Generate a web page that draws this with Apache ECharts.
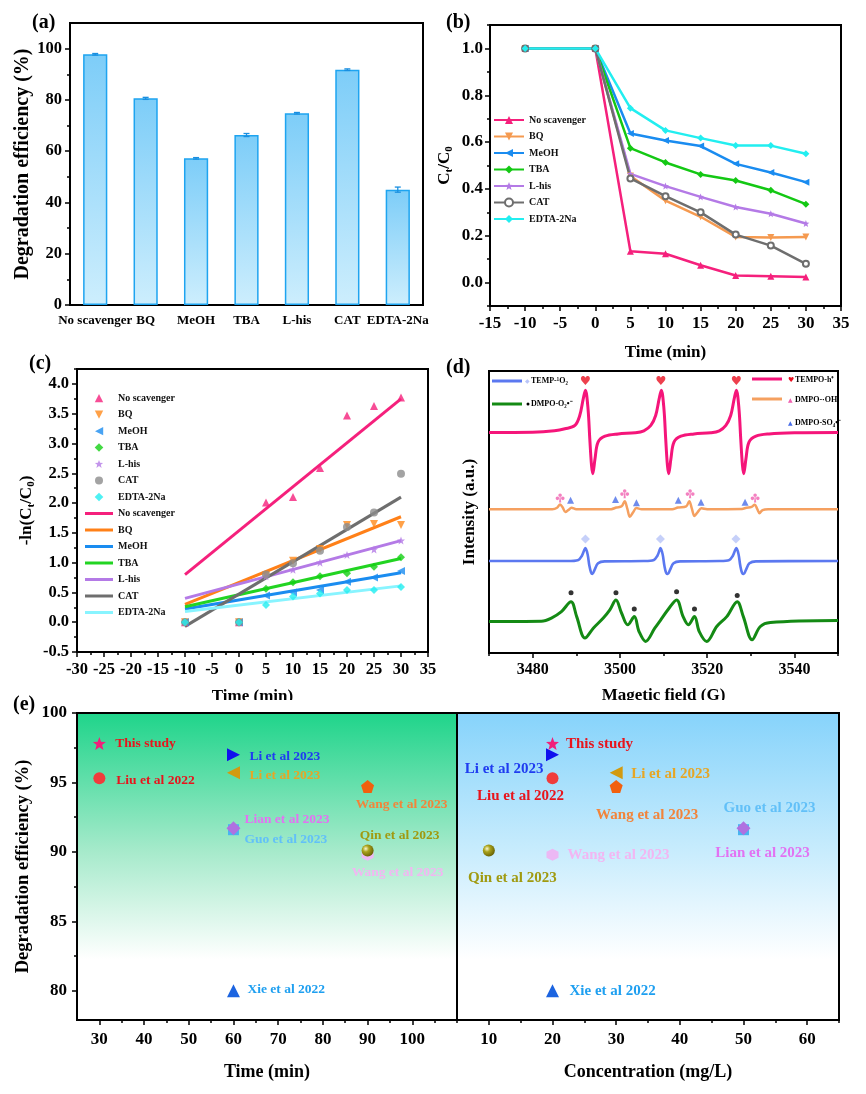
<!DOCTYPE html>
<html><head><meta charset="utf-8">
<script src="https://cdn.jsdelivr.net/npm/echarts@6/dist/echarts.min.js"></script>
<style>html,body{margin:0;padding:0;background:#fff}#c{width:866px;height:1094px}</style>
</head><body><div id="c"></div>
<script>
// ---------------- DATA ----------------
const scavengers = ['No scavenger', 'BQ', 'MeOH', 'TBA', 'L-his', 'CAT', 'EDTA-2Na'];
// (a) degradation efficiency (%)
const efficiency = [97.8, 80.6, 57.2, 66.3, 74.8, 91.8, 45.0];
const efficiencyErr = [0.3, 0.4, 0.3, 0.6, 0.3, 0.3, 1.0];
// (b) Ct/C0 vs time
const timePoints = [-10, 0, 5, 10, 15, 20, 25, 30];
const ratioNoScav = [1, 1, 0.134, 0.123, 0.074, 0.030, 0.027, 0.024];
const ratioBQ = [1, 1, 0.455, 0.350, 0.281, 0.195, 0.193, 0.195];
const ratioMeOH = [1, 1, 0.637, 0.607, 0.583, 0.507, 0.470, 0.429];
const ratioTBA = [1, 1, 0.574, 0.513, 0.462, 0.436, 0.394, 0.335];
const ratioLhis = [1, 1, 0.464, 0.412, 0.366, 0.323, 0.294, 0.252];
const ratioCAT = [1, 1, 0.445, 0.369, 0.300, 0.205, 0.158, 0.080];
const ratioEDTA = [1, 1, 0.745, 0.650, 0.617, 0.585, 0.585, 0.550];
// (c) -ln(Ct/C0) points and fitted lines
const lnNoScav = [0, 0, 2.01, 2.10, 2.59, 3.47, 3.63, 3.77];
const lnBQ = [0, 0, 0.79, 1.03, 1.23, 1.63, 1.65, 1.63];
const lnMeOH = [0, 0, 0.45, 0.50, 0.54, 0.68, 0.75, 0.86];
const lnTBA = [0, 0, 0.56, 0.67, 0.77, 0.82, 0.93, 1.09];
const lnLhis = [0, 0, 0.77, 0.88, 1.00, 1.13, 1.22, 1.37];
const lnCAT = [0, 0, 0.80, 0.99, 1.20, 1.60, 1.84, 2.49];
const lnEDTA = [0, 0, 0.29, 0.43, 0.48, 0.54, 0.54, 0.59];
const fitX = [-10, 30];
const fitNoScav = [0.80, 3.75];
const fitBQ = [0.30, 1.77];
const fitMeOH = [0.22, 0.83];
const fitTBA = [0.26, 1.07];
const fitLhis = [0.40, 1.37];
const fitCAT = [-0.07, 2.10];
const fitEDTA = [0.18, 0.61];
// (d) EPR spectra [field (G), intensity (a.u.)]
const tempoH = [[3470,78.2],[3480,78.3],[3485,78.8],[3487.4,79.5],[3489.7,80.7],[3490.8,84.2],[3491.6,90.1],[3492.1,93.2],[3492.7,86.6],[3493.1,76.0],[3493.5,66.5],[3493.8,63.6],[3494.3,68.9],[3495.0,74.8],[3496.6,76.9],[3499.6,77.7],[3503.5,78.1],[3505.5,78.8],[3507.1,80.7],[3508.2,84.2],[3509.0,90.1],[3509.5,93.2],[3510.1,86.6],[3510.5,76.0],[3510.9,66.5],[3511.2,63.6],[3511.7,68.9],[3512.4,74.8],[3514.0,76.9],[3517.0,77.7],[3520.8,78.1],[3522.8,78.8],[3524.3,80.7],[3525.4,84.2],[3526.2,90.1],[3526.7,93.2],[3527.3,86.6],[3527.7,76.0],[3528.1,66.5],[3528.4,63.6],[3528.9,68.9],[3529.6,74.8],[3531.2,76.9],[3534.2,77.7],[3540,78.1],[3550,78.2]];
const dmpoOH = [[3470,51.0],[3484.5,51.0],[3485.6,51.5],[3486.3,52.7],[3486.9,51.6],[3487.5,50.0],[3488.2,50.7],[3488.9,51.5],[3490,51.0],[3498,51.0],[3499.2,51.6],[3500.4,52.0],[3501.1,53.8],[3501.7,51.2],[3502.3,48.3],[3503.0,49.8],[3503.8,51.4],[3505,51.0],[3512,51.0],[3513.3,51.6],[3515.2,52.0],[3515.9,53.8],[3516.5,51.2],[3517.1,48.6],[3517.8,49.9],[3518.7,51.3],[3520,51.0],[3528,51.1],[3529.0,51.5],[3530.2,51.8],[3530.9,52.6],[3531.5,51.0],[3532.0,49.6],[3532.7,50.7],[3534,51.0],[3550,51.0]];
const tempO2 = [[3470,32.6],[3488,32.6],[3490.5,33.0],[3491.3,34.5],[3491.7,36.0],[3492.1,37.2],[3492.6,35.0],[3493.0,31.0],[3493.4,28.5],[3493.7,28.0],[3494.2,29.5],[3495.0,31.8],[3496.5,32.5],[3505.5,32.6],[3507.8,33.0],[3508.6,34.5],[3509.0,36.0],[3509.3,37.2],[3509.8,35.0],[3510.2,31.0],[3510.6,28.5],[3511.0,28.0],[3511.5,29.5],[3512.3,31.8],[3513.8,32.5],[3522.8,32.6],[3525.1,33.0],[3525.9,34.5],[3526.3,36.0],[3526.7,37.2],[3527.2,35.0],[3527.6,31.0],[3528.0,28.5],[3528.4,28.0],[3528.9,29.5],[3529.7,31.8],[3531.2,32.5],[3550,32.6]];
const dmpoO2 = [[3470,11.2],[3482,11.3],[3484.3,12.4],[3486.6,14.7],[3488.8,18.2],[3490.1,12.9],[3492.0,5.3],[3493.9,8.8],[3496.2,12.4],[3497.7,15.3],[3499.1,18.8],[3500.4,14.1],[3501.8,10.0],[3503.3,12.9],[3504.4,7.6],[3505.9,4.1],[3508.0,8.8],[3509.3,11.6],[3511.1,15.5],[3513.0,18.8],[3514.5,12.9],[3515.7,10.0],[3517.1,12.9],[3518.2,7.6],[3519.9,4.1],[3522.2,9.4],[3524.5,12.9],[3526.9,18.2],[3528.3,12.9],[3530.3,4.7],[3532.2,9.4],[3534.5,10.8],[3550,11.5]];
const heartMarks = [[3492.1,96.6],[3509.4,96.6],[3526.7,96.6]];
const clubMarks = [[3486.3,55.0],[3501.1,56.5],[3516.1,56.5],[3531.0,55.0]];
const triMarks = [[3488.7,54.2],[3499.0,54.4],[3503.8,53.3],[3513.4,54.2],[3518.6,53.5],[3528.7,53.5]];
const diamondMarks = [[3492.1,40.4],[3509.3,40.4],[3526.6,40.4]];
const dotMarks = [[3488.8,21.4],[3499.1,21.4],[3503.3,15.6],[3513.0,21.7],[3517.1,15.6],[3526.9,20.4]];
// (e) literature comparison
const studies = ['This study', 'Liu et al 2022', 'Li et al 2023', 'Li et al 2023', 'Wang et al 2023', 'Lian et al 2023', 'Guo et al 2023', 'Qin et al 2023', 'Wang et al 2023', 'Xie et al 2022'];
const studyTime = [30, 30, 60, 60, 90, 60, 60, 90, 90, 60];
const studyConc = [20, 20, 20, 30, 30, 50, 50, 10, 20, 20];
const studyEff = [97.8, 95.3, 97.0, 95.7, 94.7, 91.7, 91.6, 90.1, 89.8, 80.0];

// ---------------- STYLE ----------------
const FONT = "'Liberation Serif','Times New Roman',serif";
const STAR = 'path://M12,1 L14.9,8.6 L23,9 L16.7,14 L18.9,22.5 L12,17.7 L5.1,22.5 L7.3,14 L1,9 L9.1,8.6 Z';
const PENT = 'path://M12,1 L23,9.2 L18.8,22 L5.2,22 L1,9.2 Z';
const HEX = 'path://M12,1 L21.5,6.5 L21.5,17.5 L12,23 L2.5,17.5 L2.5,6.5 Z';
const HEART = 'path://M12,21 L3.5,12.5 C1,10 1,5.5 4.5,3.8 C7.5,2.4 10.5,3.8 12,6.5 C13.5,3.8 16.5,2.4 19.5,3.8 C23,5.5 23,10 20.5,12.5 Z';
const CLUB = 'path://M8,6 A4,4 0 1 1 16,6 A4,4 0 1 1 8,6 Z M2,13 A4,4 0 1 1 10,13 A4,4 0 1 1 2,13 Z M14,13 A4,4 0 1 1 22,13 A4,4 0 1 1 14,13 Z M11,10 L13,10 L14.5,22 L9.5,22 Z';
const LINE_ICON = 'path://M0,0 L28,0 L28,3 L0,3 Z';
// legend icons (28x10 box with centred marker)
const LG_BOX = 'path://M0,0 M28,10 ';
const legendIconsC = [
  LG_BOX + 'M9.8,9.3 L14,1 L18.2,9.3 Z',
  LG_BOX + 'M9.8,1 L18.2,1 L14,9.3 Z',
  LG_BOX + 'M18.2,1 L18.2,9.3 L10,5.15 Z',
  LG_BOX + 'M14,0.8 L18.3,5 L14,9.2 L9.7,5 Z',
  LG_BOX + 'M14,0.9 L15.1,3.7 L18.1,3.9 L15.8,5.8 L16.6,8.9 L14,7.1 L11.4,8.9 L12.2,5.8 L9.9,3.9 L12.9,3.7 Z',
  LG_BOX + 'M10,5 A4,4 0 1 1 18,5 A4,4 0 1 1 10,5 Z',
  LG_BOX + 'M14,0.8 L18.3,5 L14,9.2 L9.7,5 Z'
];

const ratios = [ratioNoScav, ratioBQ, ratioMeOH, ratioTBA, ratioLhis, ratioCAT, ratioEDTA];
const lnVals = [lnNoScav, lnBQ, lnMeOH, lnTBA, lnLhis, lnCAT, lnEDTA];
const fits = [fitNoScav, fitBQ, fitMeOH, fitTBA, fitLhis, fitCAT, fitEDTA];
const colB = ['#f5207c', '#f59a50', '#1a8cf0', '#14c814', '#b47ae6', '#6e6e6e', '#22eef0'];
const colCs = ['#f5207c', '#ff8a1a', '#1a8cf0', '#14d014', '#b47ae6', '#8c8c8c', '#22eef0'];
const colCl = ['#f5207c', '#ff8018', '#1a8cf0', '#22d422', '#b47ae6', '#6e6e6e', '#88f4ff'];
const symB = ['triangle', 'triangle', 'triangle', 'diamond', STAR, 'emptyCircle', 'diamond'];
const symC = ['triangle', 'triangle', 'triangle', 'diamond', STAR, 'circle', 'diamond'];
const rotB = [0, 180, 90, 0, 0, 0, 0];

const sphere = {type: 'radial', x: 0.35, y: 0.35, r: 0.75, colorStops: [{offset: 0, color: '#fbf8d0'}, {offset: 0.35, color: '#aaa31c'}, {offset: 1, color: '#5e5800'}]};
const mSym = [STAR, 'circle', 'triangle', 'triangle', PENT, 'diamond', 'rect', 'circle', HEX, 'triangle'];
const mRot = [0, 0, -90, 90, 0, 0, 0, 0, 0, 0];
const mCol = ['#f0207a', '#f03c3c', '#1010ee', '#d29a10', '#f2600e', '#b070e0', '#48b4f0', sphere, '#ecb8f4', '#1c64e0'];
const mSize = [13, 12, 13, 13, 13, 14, 11, 12, 12, 13];
const mZ = [5, 4, 4, 4, 4, 4, 3, 4, 3, 4];
const lCol = ['#e8141c', '#e8141c', '#1f3cf0', '#e6a626', '#f2843a', '#e272f2', '#62c0f8', '#a09a10', '#f2b6f2', '#1e9ff0'];
const lblLeft = [['left', 16, 0], ['left', 17, 2], ['left', 16, 2], ['left', 16, 3], ['center', 34, 18], ['left', 11, -9], ['left', 11, 10], ['center', 32, -15], ['center', 30, 18], ['left', 14, -1]];
const lblRight = [['left', 13.5, 1], ['center', -32, 17.5], ['right', -9, 14], ['left', 15, 1], ['center', 31, 29], ['center', 19, 25], ['center', 26, -22], ['center', 23.5, 27.5], ['left', 15, 0], ['left', 17, 0]];

function ticks(a, b, s) { const r = []; for (let v = a; v <= b + 1e-9; v += s) r.push(Math.round(v * 1000) / 1000); return r; }

const gridDefs = [
  {left: 70, top: 23, width: 353, height: 282},
  {left: 490, top: 25, width: 351, height: 281},
  {left: 77, top: 369, width: 351, height: 283},
  {left: 489, top: 371, width: 349, height: 282},
  {left: 77, top: 713, width: 380, height: 307},
  {left: 457, top: 713, width: 382, height: 307}
];
const grids = gridDefs.map(g => Object.assign({show: true, borderColor: '#000', borderWidth: 2, backgroundColor: 'transparent', containLabel: false, outerBoundsMode: 'none'}, g));
grids[4].backgroundColor = {type: 'linear', x: 0, y: 0, x2: 0, y2: 1, colorStops: [{offset: 0, color: '#1ed48a'}, {offset: 0.45, color: '#a6eacb'}, {offset: 0.8, color: '#ffffff'}, {offset: 1, color: '#ffffff'}]};
grids[5].backgroundColor = {type: 'linear', x: 0, y: 0, x2: 0, y2: 1, colorStops: [{offset: 0, color: '#86d3fb'}, {offset: 0.45, color: '#c8ecfd'}, {offset: 0.8, color: '#ffffff'}, {offset: 1, color: '#ffffff'}]};

function vAxis(o) {
  return {
    type: 'value', gridIndex: o.g, position: o.pos, min: o.min, max: o.max,
    axisLine: {show: true, onZero: false, lineStyle: {color: '#000', width: 2}},
    axisTick: {show: !!o.major, customValues: o.major, length: 5, inside: false, lineStyle: {color: '#000', width: 1.5}},
    axisLabel: {show: !!o.labels, customValues: o.major, formatter: o.fmt || (v => String(v)), margin: o.margin || 8, fontSize: o.fs || 16.5, fontWeight: 'bold', fontFamily: FONT, color: '#000', showMinLabel: true, showMaxLabel: true, hideOverlap: false},
    splitLine: {show: false},
    name: o.name || '', nameLocation: 'middle', nameGap: o.gap || 30,
    nameTextStyle: Object.assign({fontSize: o.nfs || 17, fontWeight: 'bold', fontFamily: FONT, color: '#000'}, o.nstyle || {})
  };
}
function minorAxis(o) {
  return {type: 'value', gridIndex: o.g, position: o.pos, min: o.min, max: o.max,
    axisLine: {show: false, onZero: false}, axisTick: {show: true, customValues: o.minor, length: 3, lineStyle: {color: '#000', width: 1.5}},
    axisLabel: {show: false}, splitLine: {show: false}};
}
const xAxes = [], yAxes = [];
function addAxis(list, main, minor) { list.push(main); const i = list.length - 1; if (minor) list.push(minor); return i; }
const fmt1 = v => Number(v).toFixed(1);
const subRich = (n, s) => ({rich: {
  n: {fontSize: n, fontWeight: 'bold', fontFamily: FONT, color: '#000', lineHeight: n + 4},
  s: {fontSize: s, fontWeight: 'bold', fontFamily: FONT, color: '#000', lineHeight: s, verticalAlign: 'bottom'}}});

// (a)
const axA = addAxis(xAxes, {type: 'category', gridIndex: 0, data: scavengers, position: 'bottom',
  axisLine: {lineStyle: {color: '#000', width: 2}}, axisTick: {alignWithLabel: true, length: 5, lineStyle: {color: '#000', width: 1.5}},
  axisLabel: {interval: 0, fontSize: 13, fontWeight: 'bold', fontFamily: FONT, color: '#000', margin: 9}});
const ayA = addAxis(yAxes, vAxis({g: 0, pos: 'left', min: 0, max: 110, major: ticks(0, 100, 20), labels: true, name: 'Degradation efficiency (%)', gap: 37, nfs: 20}),
  minorAxis({g: 0, pos: 'left', min: 0, max: 110, minor: ticks(10, 90, 20)}));
// (b)
const axB = addAxis(xAxes, vAxis({g: 1, pos: 'bottom', min: -15, max: 35, major: ticks(-15, 35, 5), labels: true, fs: 17, margin: 9, name: 'Time (min)', gap: 38}),
  minorAxis({g: 1, pos: 'bottom', min: -15, max: 35, minor: ticks(-12.5, 32.5, 5)}));
const ayB = addAxis(yAxes, vAxis({g: 1, pos: 'left', min: -0.1, max: 1.1, major: ticks(0, 1, 0.2), labels: true, fs: 17, fmt: fmt1, margin: 7,
  name: '{n|C}{s|t}{n|/C}{s|0}', gap: 35, nstyle: subRich(17, 11)}),
  minorAxis({g: 1, pos: 'left', min: -0.1, max: 1.1, minor: ticks(-0.1, 1.1, 0.2)}));
// (c)
const axC = addAxis(xAxes, vAxis({g: 2, pos: 'bottom', min: -30, max: 35, major: ticks(-30, 35, 5), labels: true, margin: 9, name: 'Time (min)', gap: 36}),
  minorAxis({g: 2, pos: 'bottom', min: -30, max: 35, minor: ticks(-27.5, 32.5, 5)}));
const ayC = addAxis(yAxes, vAxis({g: 2, pos: 'left', min: -0.5, max: 4.25, major: ticks(-0.5, 4, 0.5), labels: true, fmt: fmt1, margin: 8,
  name: '{n|-ln(C}{s|t}{n|/C}{s|0}{n|)}', gap: 40, nstyle: subRich(17, 11)}),
  minorAxis({g: 2, pos: 'left', min: -0.5, max: 4.25, minor: ticks(-0.25, 4.25, 0.5)}));
// (d)
const axD = addAxis(xAxes, vAxis({g: 3, pos: 'bottom', min: 3470, max: 3550, major: [3480, 3500, 3520, 3540], labels: true, fs: 16, margin: 9, name: 'Magetic field (G)', gap: 34}),
  minorAxis({g: 3, pos: 'bottom', min: 3470, max: 3550, minor: [3470, 3490, 3510, 3530, 3550]}));
const ayD = addAxis(yAxes, vAxis({g: 3, pos: 'left', min: 0, max: 100, name: 'Intensity (a.u.)', gap: 11}));
// (e)
const axE1 = addAxis(xAxes, vAxis({g: 4, pos: 'bottom', min: 25, max: 110, major: ticks(30, 100, 10), labels: true, fs: 17, margin: 11, name: 'Time (min)', gap: 43, nfs: 18}),
  minorAxis({g: 4, pos: 'bottom', min: 25, max: 110, minor: ticks(35, 105, 10)}));
const ayE1 = addAxis(yAxes, vAxis({g: 4, pos: 'left', min: 77.9, max: 100, major: ticks(80, 100, 5), labels: true, fs: 17, margin: 10, name: 'Degradation efficiency (%)', gap: 44, nfs: 18.5}),
  minorAxis({g: 4, pos: 'left', min: 77.9, max: 100, minor: ticks(82.5, 97.5, 5)}));
const axE2 = addAxis(xAxes, vAxis({g: 5, pos: 'bottom', min: 5, max: 65, major: ticks(10, 60, 10), labels: true, fs: 17, margin: 11, name: 'Concentration (mg/L)', gap: 43, nfs: 18}),
  minorAxis({g: 5, pos: 'bottom', min: 5, max: 65, minor: ticks(5, 65, 10)}));
const ayE2 = addAxis(yAxes, vAxis({g: 5, pos: 'left', min: 77.9, max: 100}));

const series = [];
// (a) bars + error bars
series.push({type: 'bar', xAxisIndex: axA, yAxisIndex: ayA, data: efficiency, barWidth: '48%',
  itemStyle: {color: {type: 'linear', x: 0, y: 0, x2: 0, y2: 1, colorStops: [{offset: 0, color: '#7dcdf8'}, {offset: 1, color: '#cdeefd'}]}, borderColor: '#1ea4f0', borderWidth: 1.5}});
series.push({type: 'custom', xAxisIndex: axA, yAxisIndex: ayA, z: 5, data: efficiency.map((v, i) => [i, v, efficiencyErr[i]]), encode: {x: 0, y: 1},
  renderItem: (params, api) => {
    const i = api.value(0), v = api.value(1), e = api.value(2);
    const t = api.coord([i, v + e]), b = api.coord([i, v - e]);
    const st = {stroke: '#1a8fe0', lineWidth: 1.3};
    return {type: 'group', children: [
      {type: 'line', shape: {x1: t[0], y1: t[1], x2: b[0], y2: b[1]}, style: st},
      {type: 'line', shape: {x1: t[0] - 3, y1: t[1], x2: t[0] + 3, y2: t[1]}, style: st},
      {type: 'line', shape: {x1: b[0] - 3, y1: b[1], x2: b[0] + 3, y2: b[1]}, style: st}]};
  }});
// (b)
scavengers.forEach((s, i) => {
  series.push({type: 'line', name: s + '  ', xAxisIndex: axB, yAxisIndex: ayB, data: timePoints.map((t, j) => [t, ratios[i][j]]),
    symbol: symB[i], symbolSize: i === 5 ? 6 : 7, symbolRotate: rotB[i], lineStyle: {width: 2.5, color: colB[i]}, itemStyle: {color: colB[i]}});
});
// (c)
scavengers.forEach((s, i) => {
  series.push({type: 'line', name: s + ' ', xAxisIndex: axC, yAxisIndex: ayC, data: fitX.map((t, j) => [t, fits[i][j]]),
    symbol: 'none', lineStyle: {width: 3, color: colCl[i]}, itemStyle: {color: colCl[i]}, z: 2});
});
scavengers.forEach((s, i) => {
  series.push({type: 'scatter', name: s, xAxisIndex: axC, yAxisIndex: ayC, data: timePoints.map((t, j) => [t, lnVals[i][j]]),
    symbol: symC[i], symbolSize: 8, symbolRotate: rotB[i], itemStyle: {color: colCs[i]}, z: 3});
});
// (d)
const dLine = (data, color, w) => ({type: 'line', xAxisIndex: axD, yAxisIndex: ayD, data, showSymbol: false, symbol: 'none', smooth: 0.35, lineStyle: {color, width: w}});
series.push(dLine(tempoH, '#f5157a', 3), dLine(dmpoOH, '#f5a060', 2.5), dLine(tempO2, '#5b78f0', 2.6), dLine(dmpoO2, '#148a14', 3));
const dMark = (data, sym, size, color) => ({type: 'scatter', xAxisIndex: axD, yAxisIndex: ayD, data, symbol: sym, symbolSize: size, itemStyle: {color}, z: 4});
series.push(dMark(heartMarks, HEART, 9, '#e81020'), dMark(clubMarks, CLUB, 9, '#f060b0'), dMark(triMarks, 'triangle', 7, '#4a6ee8'),
  dMark(diamondMarks, 'diamond', 9, '#b8c4f8'), dMark(dotMarks, 'circle', 5, '#000'));
// (e)
function studySeries(i, xa, ya, xv, spec, fs) {
  const s = mSize[i];
  return {type: 'scatter', xAxisIndex: xa, yAxisIndex: ya, data: [[xv, studyEff[i]]], symbol: mSym[i], symbolSize: s, symbolRotate: mRot[i],
    itemStyle: {color: mCol[i], opacity: 1}, z: mZ[i],
    label: {show: true, formatter: studies[i], position: [s / 2 + spec[1], s / 2 + spec[2]], align: spec[0], verticalAlign: 'middle',
      color: lCol[i], fontSize: fs, fontWeight: 'bold', fontFamily: FONT}};
}
studies.forEach((n, i) => {
  series.push(studySeries(i, axE1, ayE1, studyTime[i], lblLeft[i], 13.5));
  series.push(studySeries(i, axE2, ayE2, studyConc[i], lblRight[i], 15));
});

const legendText = {fontSize: 10, fontWeight: 'bold', fontFamily: FONT, color: '#111'};
const T = (x, y, text, size, extra) => Object.assign({type: 'text', x, y, z: 100, style: Object.assign({text, font: 'bold ' + size + 'px ' + FONT, fill: '#000', align: 'left', verticalAlign: 'middle'}, extra || {})});
const L = (x1, y1, x2, y2, color) => ({type: 'line', z: 100, shape: {x1, y1, x2, y2}, style: {stroke: color, lineWidth: 3}});
const graphics = [
  {type: 'rect', z: 99, shape: {x: 120, y: 700, width: 746, height: 12}, style: {fill: '#fff'}},
  T(32, 23, '(a)', 20), T(446, 23, '(b)', 20), T(29, 364, '(c)', 20), T(446, 368, '(d)', 20), T(13, 705, '(e)', 20),
  L(492, 381, 522, 381, '#5b78f0'), T(525, 381, '◆', 6, {fill: '#b8c4f8', font: '6px DejaVu Sans'}), T(531, 381, 'TEMP-¹O₂', 8),
  L(492, 404, 522, 404, '#148a14'), {type: 'circle', z: 100, shape: {cx: 528, cy: 404, r: 1.5}, style: {fill: '#000'}}, T(531, 404, 'DMPO-O₂•⁻', 8),
  L(752, 379, 782, 379, '#f5157a'), T(788, 380, '♥', 7, {fill: '#e81020', font: '7px DejaVu Sans'}), T(795, 380, 'TEMPO-h⁺', 8),
  L(752, 399, 782, 399, '#f5a060'), T(788, 400, '▲', 6, {fill: '#f060b0', font: '6px DejaVu Sans'}), T(795, 400, 'DMPO-·OH', 8),
  T(788, 423, '▲', 6, {fill: '#4a6ee8', font: '6px DejaVu Sans'}), T(795, 423, 'DMPO-SO₄•⁻', 8)
];

const option = {
  animation: false,
  backgroundColor: '#fff',
  grid: grids,
  xAxis: xAxes,
  yAxis: yAxes,
  legend: [
    {orient: 'vertical', left: 488, top: 110, itemWidth: 30, itemHeight: 10, itemGap: 6.5, selectedMode: false,
      data: scavengers.map(s => s + '  '), textStyle: legendText},
    {orient: 'vertical', left: 80, top: 388, itemWidth: 28, itemHeight: 10, itemGap: 6.5, selectedMode: false,
      data: scavengers.map((s, i) => ({name: s, icon: legendIconsC[i]})).concat(scavengers.map(s => ({name: s + ' ', icon: LINE_ICON}))), textStyle: legendText}
  ],
  graphic: {elements: graphics},
  series
};
const chart = echarts.init(document.getElementById('c'), null, {renderer: 'canvas'});
chart.setOption(option);
</script></body></html>
